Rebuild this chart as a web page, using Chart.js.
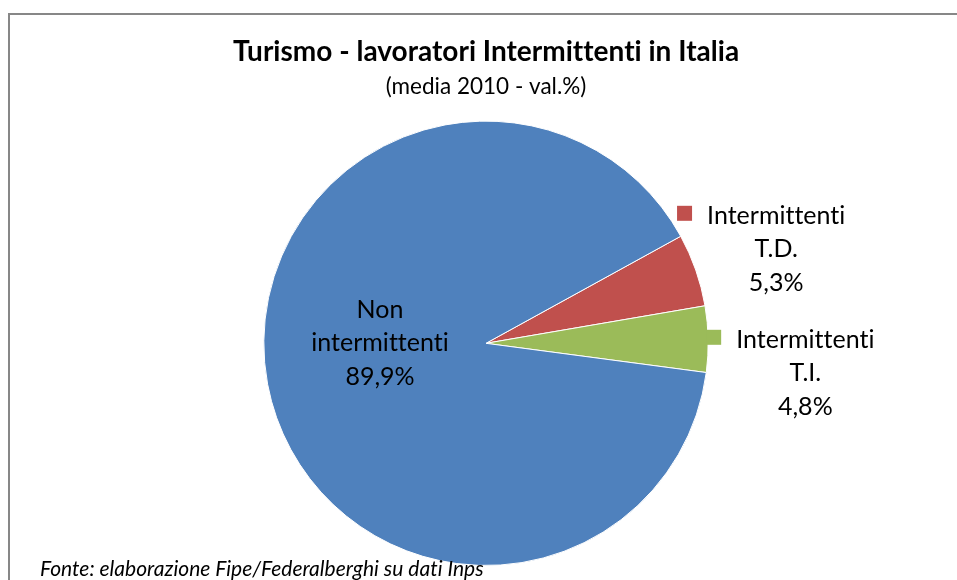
<!DOCTYPE html>
<html>
<head>
<meta charset="utf-8">
<script src="https://cdn.jsdelivr.net/npm/chart.js@4.4.1/dist/chart.umd.min.js"></script>
<style>
  html, body { margin: 0; padding: 0; background: #fff; }
  #wrap { width: 957px; height: 580px; position: relative; }
</style>
</head>
<body>
<div id="wrap"><canvas id="c" width="957" height="580"></canvas></div>
<script>
// ---- data ----
const categories = ['Intermittenti T.D.', 'Intermittenti T.I.', 'Non intermittenti'];
const labelLines = [['Intermittenti', 'T.D.'], ['Intermittenti', 'T.I.'], ['Non', 'intermittenti']];
const values = [5.3, 4.8, 89.9];
const titleText = 'Turismo - lavoratori Intermittenti in Italia';
const subtitleText = '(media 2010 - val.%)';
const sourceText = 'Fonte: elaborazione Fipe/Federalberghi su dati Inps';

const colors = ['#C0504D', '#9BBB59', '#4F81BD'];
const FONT = 'Lato, "Open Sans", sans-serif';

// label placement relative to pie center, in units of radius
const labelPlace = [
  { dx: 1.306, dy: -0.423, key: true },
  { dx: 1.437, dy: 0.135, key: true },
  { dx: -0.477, dy: 0.0, key: false }
];

const fmt = v => v.toFixed(1).replace('.', ',') + '%';

const framePlugin = {
  id: 'frame',
  beforeDraw(chart) {
    const ctx = chart.ctx;
    ctx.save();
    ctx.fillStyle = '#fff';
    ctx.fillRect(0, 0, chart.width, chart.height);
    ctx.strokeStyle = '#878787';
    ctx.lineWidth = 2;
    ctx.strokeRect(9, 14, chart.width + 20, chart.height + 20);
    ctx.restore();
    // tiny letter spacing disables ligatures (tt / ti) for a closer look
    if ('letterSpacing' in ctx) ctx.letterSpacing = '0.01px';
  },
  afterDraw(chart) {
    const ctx = chart.ctx;
    const meta = chart.getDatasetMeta(0);
    ctx.save();
    if ('letterSpacing' in ctx) ctx.letterSpacing = '0.01px';
    const fs = 25, lh = 33.5;
    ctx.font = fs + 'px ' + FONT;
    ctx.fillStyle = '#000';
    ctx.textAlign = 'center';
    ctx.textBaseline = 'middle';
    meta.data.forEach((arc, i) => {
      const r = arc.outerRadius;
      const cx = arc.x + labelPlace[i].dx * r;
      const cy = arc.y + labelPlace[i].dy * r;
      const lines = labelLines[i].concat([fmt(values[i])]);
      const y0 = cy - lh * (lines.length - 1) / 2;
      lines.forEach((t, j) => ctx.fillText(t, cx, y0 + j * lh));
      if (labelPlace[i].key) {
        const w = ctx.measureText(lines[0]).width;
        const left = cx - w / 2;
        ctx.fillStyle = colors[i];
        ctx.fillRect(left - 30, y0 - 10, 15, 15);
        ctx.fillStyle = '#000';
      }
    });
    ctx.font = 'italic 21px ' + FONT;
    ctx.textAlign = 'left';
    ctx.fillText(sourceText, 40, 569);
    ctx.restore();
  }
};

new Chart(document.getElementById('c'), {
  type: 'pie',
  data: {
    labels: categories,
    datasets: [{
      data: values,
      backgroundColor: colors,
      borderColor: '#ffffff',
      borderWidth: 1
    }]
  },
  options: {
    responsive: false,
    animation: false,
    rotation: 61.2,
    layout: { padding: { top: 0, bottom: 14, left: 15, right: 0 } },
    plugins: {
      legend: { display: false },
      tooltip: { enabled: false },
      title: {
        display: true,
        text: titleText,
        color: '#000',
        font: { family: FONT, size: 28, weight: 'bold', lineHeight: 1.2 },
        padding: { top: 35, bottom: 0 }
      },
      subtitle: {
        display: true,
        text: subtitleText,
        color: '#000',
        font: { family: FONT, size: 22.5, weight: 'normal', lineHeight: 1.2 },
        padding: { top: 5, bottom: 20 }
      }
    }
  },
  plugins: [framePlugin]
});
</script>
</body>
</html>
